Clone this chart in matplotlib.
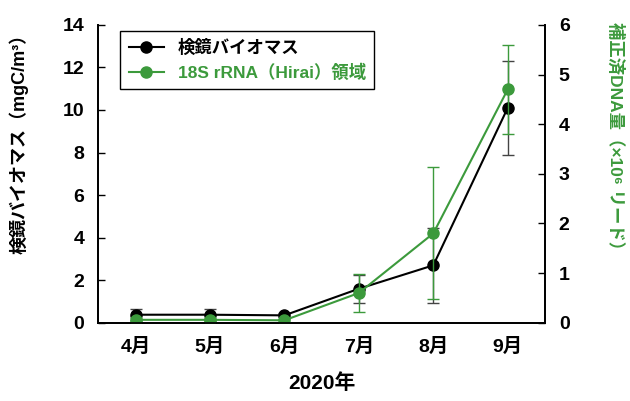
import numpy as np
import matplotlib
matplotlib.use('Agg')
import matplotlib.pyplot as plt
from matplotlib.lines import Line2D

plt.rcParams['font.family'] = ['Liberation Sans', 'Noto Sans CJK JP', 'DejaVu Sans']
plt.rcParams['font.weight'] = 'bold'

months = ['4月', '5月', '6月', '7月', '8月', '9月']
biomass = [0.38, 0.38, 0.35, 1.6, 2.7, 10.1]
biomass_err = [0.25, 0.25, 0.1, 0.65, 1.75, 2.2]
dna = [0.06, 0.06, 0.05, 0.6, 1.8, 4.7]
dna_err = [0.03, 0.03, 0.03, 0.38, 1.33, 0.9]

green = '#3c9a3c'

fig = plt.figure(figsize=(6.3, 4.01), dpi=100)
ax1 = fig.add_axes([0.156, 0.195, 0.709, 0.743])
ax2 = ax1.twinx()

x = np.arange(len(months))
ax1.errorbar(x, biomass, yerr=biomass_err, color='black', ecolor='#444444',
             elinewidth=1, capsize=4, marker='o', markersize=8, lw=1.5)
ax2.errorbar(x, dna, yerr=dna_err, color=green, ecolor=green,
             elinewidth=1, capsize=4, marker='o', markersize=8, lw=1.5)

ax1.set_xlim(-0.5, 5.5)
ax1.set_ylim(0, 14)
ax2.set_ylim(0, 6)
ax1.set_yticks(range(0, 15, 2))
ax2.set_yticks(range(0, 7))
ax1.set_xticks(x)
ax1.set_xticklabels(months)

for a in (ax1, ax2):
    a.spines['top'].set_visible(False)
    for s in ('left', 'right', 'bottom'):
        a.spines[s].set_linewidth(1.3)
ax1.tick_params(axis='y', direction='in', length=5, width=1, labelsize=14, pad=10)
ax2.tick_params(axis='y', direction='in', length=5, width=1, labelsize=14, pad=10)
ax1.tick_params(axis='x', length=0, labelsize=14, pad=11)

ax1.set_ylabel('検鏡バイオマス（mgC/m³）', fontsize=13, fontweight='bold', va='center')
ax1.yaxis.set_label_coords(-0.177, 0.615)
ax2.set_ylabel('補正済DNA量（×10⁶ リード）', fontsize=12.5, fontweight='bold',
               color=green, rotation=270, va='center')
ax2.yaxis.set_label_coords(1.159, 0.615)
ax1.set_xlabel('2020年', fontsize=15, fontweight='bold', labelpad=12)

handles = [Line2D([], [], color='black', marker='o', markersize=8, lw=1.5),
           Line2D([], [], color=green, marker='o', markersize=8, lw=1.5)]
leg = ax1.legend(handles, ['検鏡バイオマス', '18S rRNA（Hirai）領域'],
                 loc='upper left', bbox_to_anchor=(0.03, 1.01), fontsize=12.5,
                 fancybox=False, edgecolor='black', framealpha=1,
                 handlelength=2.0, borderpad=0.5, labelspacing=0.4)
leg.get_frame().set_linewidth(1.0)
leg.get_texts()[1].set_color(green)
for t in leg.get_texts():
    t.set_fontweight('bold')

fig.savefig('out.png', dpi=100)
